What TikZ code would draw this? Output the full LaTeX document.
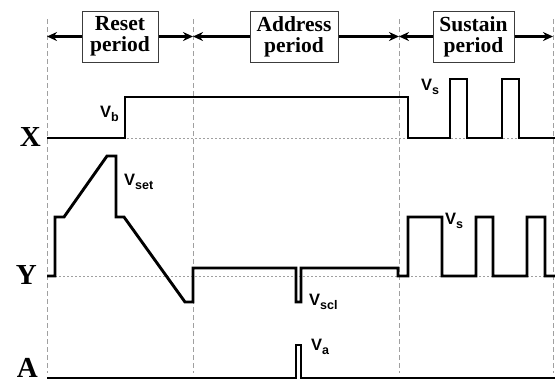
\documentclass[tikz,border=0pt]{standalone}
\usepackage{fontspec}
\setmainfont{Liberation Serif}
\setsansfont{Liberation Sans}
\usetikzlibrary{arrows.meta}
\definecolor{guideGray}{RGB}{160,160,160}
\definecolor{boxGray}{RGB}{60,60,60}
\newcommand{\Vlab}[1]{{\sffamily\bfseries\fontsize{16.5}{16.5}\selectfont V\raisebox{-4pt}{\fontsize{12.5}{12.5}\selectfont #1}}}
\newcommand{\sigfont}{\bfseries\fontsize{29}{29}\selectfont}

\begin{document}
\begin{tikzpicture}[x=1pt,y=-1pt,
  period/.style={draw=boxGray,line width=1pt,fill=white,align=center,inner sep=2pt,minimum height=51pt,font=\bfseries\fontsize{21.5}{21}\selectfont},
  span/.style={line width=2.1pt,-{Stealth[length=10pt,width=9pt]}},
  guide/.style={guideGray,line width=1pt,dash pattern=on 5pt off 3pt},
  base/.style={guideGray,line width=0.8pt,dash pattern=on 2pt off 2pt},
  wave/.style={line width=2.9pt,miter limit=4}]
\useasboundingbox (0,0) rectangle (555,384);
% time marks
\foreach \t/\n in {47/t0,193/t1,399/t2,553/t3}{
  \coordinate (\n) at (\t,36.5);
  \draw[guide] (\t,19) -- (\t,373);
}
\draw[base] (47,138) -- (555,138);
\draw[base] (47,276) -- (555,276);
% periods
\node[period,minimum width=76pt] (reset) at (120,36.5) {Reset\\period};
\node[period,minimum width=88pt] (addr) at (294,36.5) {Address\\period};
\node[period,minimum width=81pt] (sus) at (473.5,36.5) {Sustain\\period};
\draw[span] (reset.west) -- (t0);
\draw[span] (reset.east) -- (t1);
\draw[span] (addr.west) -- (t1);
\draw[span] (addr.east) -- (t2);
\draw[span] (sus.west) -- (t2);
\draw[span] (sus.east) -- (t3);
% X electrode
\draw[wave] (47,138) -- (125,138) -- (125,97) -- (408,97) -- (408,138) -- (450,138)
  -- (450,79) -- (467,79) -- (467,138) -- (502,138) -- (502,79) -- (519,79) -- (519,138) -- (555,138);
% Y electrode
\draw[wave] (47,276) -- (55,276) -- (55,217) -- (64,217) -- (107,156) -- (116,156) -- (116,217)
  -- (124,217) -- (185,302) -- (193,302) -- (193,268) -- (296,268) -- (296,302) -- (301,302)
  -- (301,268) -- (398,268) -- (398,276) -- (408,276) -- (408,217) -- (442,217) -- (442,276)
  -- (476,276) -- (476,217) -- (493,217) -- (493,276) -- (527,276) -- (527,217) -- (545,217)
  -- (545,276) -- (555,276);
% A electrode
\draw[wave] (47,378) -- (296,378) -- (296,345) -- (301,345) -- (301,378) -- (555,378);
% labels
\node[anchor=base east,inner sep=0pt] (xlab) at (41,146) {\sigfont X};
\node[anchor=base east,inner sep=0pt] (ylab) at (37,284) {\sigfont Y};
\node[anchor=base east,inner sep=0pt] (alab) at (38,377) {\sigfont A};
\node[anchor=base east,inner sep=0pt] (vb) at (119,117) {\Vlab{b}};
\node[anchor=base west,inner sep=0pt] (vsx) at (421,90) {\Vlab{s}};
\node[anchor=base west,inner sep=0pt] (vset) at (124,185) {\Vlab{set}};
\node[anchor=base west,inner sep=0pt] (vsy) at (445,224) {\Vlab{s}};
\node[anchor=base west,inner sep=0pt] (vscl) at (309,305) {\Vlab{scl}};
\node[anchor=base west,inner sep=0pt] (va) at (311,350) {\Vlab{a}};
\end{tikzpicture}
\end{document}
